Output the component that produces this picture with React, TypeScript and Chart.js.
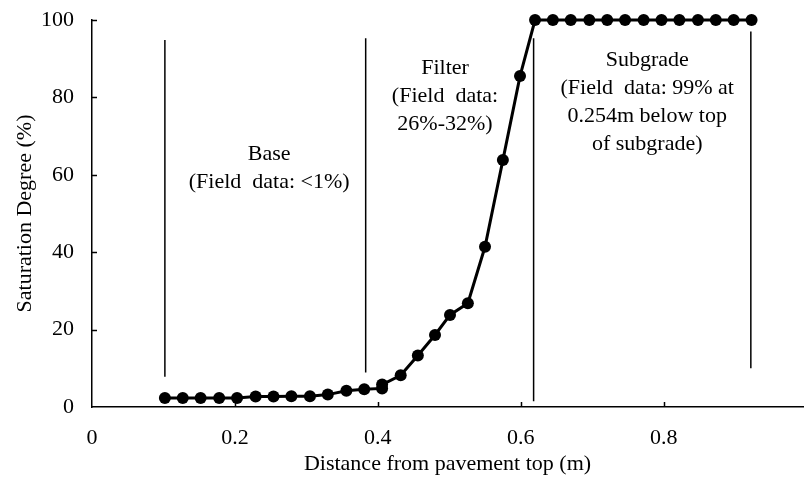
import React, { useEffect, useRef } from 'react';
import { Chart, registerables } from 'chart.js';

Chart.register(...registerables);

// Distance from pavement top (m)
const distance = [
  0.102, 0.127, 0.152, 0.178, 0.203, 0.229, 0.254, 0.279, 0.305, 0.330, 0.356, 0.381, 0.406,
  0.406, 0.432, 0.456, 0.480, 0.501, 0.526, 0.550, 0.575, 0.599, 0.620,
  0.645, 0.670, 0.696, 0.721, 0.746, 0.772, 0.797, 0.822, 0.848, 0.873, 0.898, 0.923,
];
// Saturation degree (%)
const saturation = [
  2.3, 2.3, 2.3, 2.3, 2.3, 2.7, 2.7, 2.8, 2.8, 3.2, 4.2, 4.6, 4.8,
  5.8, 8.2, 13.3, 18.6, 23.8, 26.8, 41.4, 63.8, 85.5, 100,
  100, 100, 100, 100, 100, 100, 100, 100, 100, 100, 100, 100,
];

const xTickValues = [0, 0.2, 0.4, 0.6, 0.8];
const yTickValues = [0, 20, 40, 60, 80, 100];

// Layer divider lines (data units)
const dividerX = [0.102, 0.383, 0.618, 0.922];
const dividerTop = [94.8, 95.3, 95.3, 97];
const dividerBottom = [7.8, 8.9, 1.5, 10];

// Layer annotations
const layerText = [
  ['Base', '(Field  data: <1%)'],
  ['Filter', '(Field  data:', '26%-32%)'],
  ['Subgrade', '(Field  data: 99% at', '0.254m below top', 'of subgrade)'],
];
const layerTextX = [0.248, 0.494, 0.777];
const layerTextY = [65.3, 87.5, 89.7];

const FONT = "'Liberation Serif', 'Times New Roman', serif";

const overlayPlugin = {
  id: 'overlay',
  beforeDatasetsDraw(chart: any) {
    const { ctx, scales } = chart;
    const x = scales.x;
    const y = scales.y;
    ctx.save();
    ctx.strokeStyle = '#000';
    ctx.lineWidth = 1.5;
    for (let i = 0; i < dividerX.length; i++) {
      const px = x.getPixelForValue(dividerX[i]);
      ctx.beginPath();
      ctx.moveTo(px, y.getPixelForValue(dividerTop[i]));
      ctx.lineTo(px, y.getPixelForValue(dividerBottom[i]));
      ctx.stroke();
    }
    ctx.restore();
  },
  afterDraw(chart: any) {
    const { ctx, scales, chartArea } = chart;
    const x = scales.x;
    const y = scales.y;
    ctx.save();
    // inside tick marks
    ctx.strokeStyle = '#000';
    ctx.lineWidth = 1.5;
    for (const v of xTickValues) {
      if (v === 0) continue;
      const px = Math.round(x.getPixelForValue(v)) + 0.5;
      ctx.beginPath();
      ctx.moveTo(px, chartArea.bottom);
      ctx.lineTo(px, chartArea.bottom - 5);
      ctx.stroke();
    }
    for (const v of yTickValues) {
      if (v === 0) continue;
      const py = Math.round(y.getPixelForValue(v)) + 0.5;
      ctx.beginPath();
      ctx.moveTo(chartArea.left, py);
      ctx.lineTo(chartArea.left + 5, py);
      ctx.stroke();
    }
    // annotations
    ctx.fillStyle = '#000';
    ctx.font = `22px ${FONT}`;
    ctx.textAlign = 'center';
    ctx.textBaseline = 'middle';
    for (let i = 0; i < layerText.length; i++) {
      const px = x.getPixelForValue(layerTextX[i]);
      const py = y.getPixelForValue(layerTextY[i]);
      layerText[i].forEach((line, j) => {
        ctx.fillText(line, px, py + j * 28);
      });
    }
    ctx.restore();
  },
};

export default function App() {
  const canvasRef = useRef<HTMLCanvasElement | null>(null);

  useEffect(() => {
    if (!canvasRef.current) return;
    const points = distance.map((d, i) => ({ x: d, y: saturation[i] }));
    const chart = new Chart(canvasRef.current, {
      type: 'scatter',
      data: {
        datasets: [
          {
            data: points,
            showLine: true,
            borderColor: '#000',
            backgroundColor: '#000',
            borderWidth: 3,
            pointRadius: 6,
            pointBackgroundColor: '#000',
            pointBorderColor: '#000',
            pointBorderWidth: 0,
            clip: false,
          } as any,
        ],
      },
      options: {
        animation: false,
        responsive: false,
        devicePixelRatio: 1,
        layout: { autoPadding: false, padding: { top: 0, right: 2, left: 0, bottom: 0 } },
        plugins: {
          legend: { display: false },
          tooltip: { enabled: false },
        },
        scales: {
          x: {
            type: 'linear',
            min: 0,
            max: 0.995,
            afterBuildTicks: (s: any) => {
              s.ticks = xTickValues.map((v) => ({ value: v }));
            },
            afterFit: (s: any) => {
              s.height = 71;
            },
            grid: { display: false },
            border: { display: true, color: '#000', width: 1.5 },
            ticks: {
              color: '#000',
              padding: 10,
              font: { family: FONT, size: 22 },
              callback: (v: any) => String(v),
            },
            title: {
              display: true,
              text: 'Distance from pavement top (m)',
              color: '#000',
              font: { family: FONT, size: 22, lineHeight: 1 },
              padding: { top: 0, bottom: 3 },
            },
          },
          y: {
            type: 'linear',
            min: 0,
            max: 100,
            afterBuildTicks: (s: any) => {
              s.ticks = yTickValues.map((v) => ({ value: v }));
            },
            afterFit: (s: any) => {
              s.width = 92;
              s.paddingTop = 20;
            },
            grid: { display: false },
            border: { display: true, color: '#000', width: 1.5 },
            ticks: {
              color: '#000',
              padding: 10,
              font: { family: FONT, size: 22 },
            },
            title: {
              display: true,
              text: 'Saturation Degree (%)',
              color: '#000',
              font: { family: FONT, size: 22, lineHeight: 1 },
              padding: { top: 14, bottom: 0 },
            },
          },
        },
      },
      plugins: [overlayPlugin],
    });
    return () => chart.destroy();
  }, []);

  return (
    <div style={{ position: 'absolute', left: 0, top: 0, width: 805, height: 478, background: '#fff' }}>
      <canvas ref={canvasRef} width={805} height={478} style={{ width: 805, height: 478 }} />
    </div>
  );
}
